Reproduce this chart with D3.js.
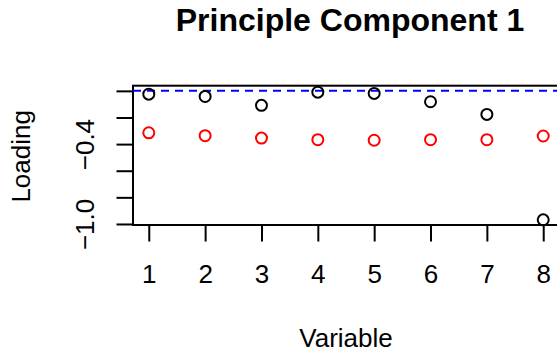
<!DOCTYPE html>
<html>
<head>
<meta charset="utf-8">
<script src="https://cdn.jsdelivr.net/npm/d3@7"></script>
<style>
  html, body { margin: 0; padding: 0; background: #fff; }
  svg { display: block; font-family: "Liberation Sans", Arial, Helvetica, sans-serif; }
</style>
</head>
<body>
<svg id="chart" width="557" height="358"></svg>
<script>
// Loadings of the eight variables on the first principal component
const variables = [1, 2, 3, 4, 5, 6, 7, 8];
const loadingsA = [-0.025, -0.042, -0.109, -0.010, -0.019, -0.082, -0.177, -0.969];
const loadingsB = [-0.315, -0.337, -0.355, -0.367, -0.371, -0.367, -0.367, -0.339];
const xTicks = [1, 2, 3, 4, 5, 6, 7, 8];
const yTicks = [0, -0.2, -0.4, -0.6, -0.8, -1.0];
const yTickLabels = { "-0.4": "\u22120.4", "-1": "\u22121.0" };
const refLine = 0;

const svg = d3.select("#chart");
const plot = { left: 133, right: 559, top: 85.7, bottom: 225 };

// Base-graphics style axis ranges: data extent padded by 4% on each side
function padded(ext) {
  const r = ext[1] - ext[0];
  return [ext[0] - 0.04 * r, ext[1] + 0.04 * r];
}
const x = d3.scaleLinear()
  .domain(padded(d3.extent(variables)))
  .range([plot.left, plot.right]);
const y = d3.scaleLinear()
  .domain(padded(d3.extent([...loadingsA, ...loadingsB, refLine])))
  .range([plot.bottom, plot.top]);

const axisFont = 26;
const tickLen = 16.5;

// plot frame
svg.append("rect")
  .attr("x", plot.left).attr("y", plot.top)
  .attr("width", plot.right - plot.left).attr("height", plot.bottom - plot.top)
  .attr("fill", "none").attr("stroke", "#000").attr("stroke-width", 2);

// x axis
const xAxis = d3.axisBottom(x).tickValues(xTicks).tickSize(tickLen).tickPadding(0).tickFormat(d3.format("d"));
const gx = svg.append("g").attr("transform", `translate(0,${plot.bottom})`).call(xAxis);
gx.select(".domain").attr("d", `M${x(xTicks[0])},0H${x(xTicks[xTicks.length - 1])}`)
  .attr("stroke", "#000").attr("stroke-width", 2);
gx.selectAll(".tick line").attr("stroke", "#000").attr("stroke-width", 2);
gx.selectAll(".tick text")
  .attr("y", 57.5).attr("dy", null)
  .attr("fill", "#000")
  .style("font-size", axisFont + "px")
  .style("font-family", "'Liberation Sans', Arial, sans-serif");

// y axis with rotated labels (only some ticks labelled)
const yAxis = d3.axisLeft(y).tickValues(yTicks).tickSize(tickLen).tickPadding(0)
  .tickFormat(d => yTickLabels[String(+d.toFixed(1))] || "");
const gy = svg.append("g").attr("transform", `translate(${plot.left},0)`).call(yAxis);
gy.select(".domain").attr("d", `M0,${y(yTicks[0])}V${y(yTicks[yTicks.length - 1])}`)
  .attr("stroke", "#000").attr("stroke-width", 2);
gy.selectAll(".tick line").attr("stroke", "#000").attr("stroke-width", 2);
gy.selectAll(".tick text")
  .attr("x", null).attr("dy", null)
  .attr("transform", "translate(-39,0) rotate(-90)")
  .attr("text-anchor", "middle")
  .attr("fill", "#000")
  .style("font-size", axisFont + "px")
  .style("font-family", "'Liberation Sans', Arial, sans-serif");

// reference line at zero
svg.append("line")
  .attr("x1", plot.left).attr("x2", plot.right)
  .attr("y1", y(refLine)).attr("y2", y(refLine))
  .attr("stroke", "#0000ff").attr("stroke-width", 2)
  .attr("stroke-dasharray", "8,6");

// points
const pts = svg.append("g");
pts.selectAll("circle.a").data(variables.map((v, i) => [v, loadingsA[i]]))
  .join("circle").attr("class", "a")
  .attr("cx", d => x(d[0])).attr("cy", d => y(d[1])).attr("r", 5.5)
  .attr("fill", "none").attr("stroke", "#000").attr("stroke-width", 2);
pts.selectAll("circle.b").data(variables.map((v, i) => [v, loadingsB[i]]))
  .join("circle").attr("class", "b")
  .attr("cx", d => x(d[0])).attr("cy", d => y(d[1])).attr("r", 5.5)
  .attr("fill", "none").attr("stroke", "#ff0000").attr("stroke-width", 2);

// titles
const cx = (plot.left + plot.right) / 2;
svg.append("text")
  .attr("x", cx + 4).attr("y", 31)
  .attr("text-anchor", "middle")
  .style("font-size", "32px").style("font-weight", "bold")
  .text("Principle Component 1");
svg.append("text")
  .attr("x", cx).attr("y", 347)
  .attr("text-anchor", "middle")
  .style("font-size", axisFont + "px")
  .text("Variable");
svg.append("text")
  .attr("transform", `translate(30,${(plot.top + plot.bottom) / 2 + 1}) rotate(-90)`)
  .attr("text-anchor", "middle")
  .style("font-size", axisFont + "px")
  .text("Loading");
</script>
</body>
</html>
